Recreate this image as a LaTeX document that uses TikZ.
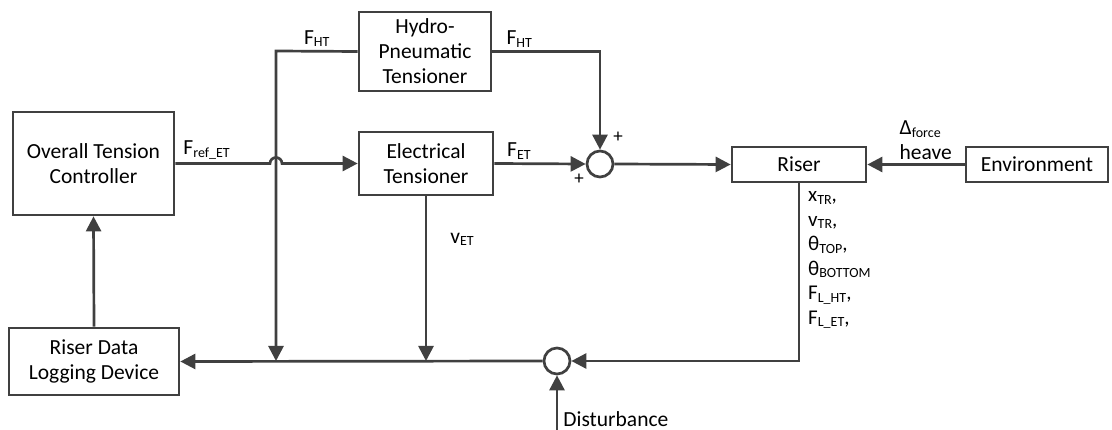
\documentclass[tikz,border=0pt]{standalone}
\usepackage{fontspec}
\setmainfont{Carlito}
\usetikzlibrary{arrows.meta, positioning, calc}
\definecolor{WireGray}{HTML}{404040}
\newcommand{\sbs}[1]{\raisebox{-0.25ex}{\fontsize{14}{14}\selectfont #1}}

\begin{document}
\begin{tikzpicture}[
            x=1pt, y=-1pt,
            font=\fontsize{21.5}{25}\selectfont,
            >={Triangle[length=15pt,width=15pt]},
            line/.style={draw=WireGray, line width=2.7pt, ->},
            block/.style={
                rectangle, draw=WireGray, line width=2.7pt,
                align=center, inner sep=2pt
            },
            sumnode/.style={circle, draw=WireGray, line width=2.7pt, minimum size=26pt, inner sep=0pt},
            note/.style={inner sep=3pt},
            sign/.style={inner sep=0pt, font=\fontsize{19}{19}\selectfont}
        ]
        \useasboundingbox (0,0) rectangle (1112,430);

        % --- Blocks ---
        \node[block, minimum width=161, minimum height=103] (otc) at (93.5,163.5) {Overall Tension\\Controller};
        \node[block, minimum width=132, minimum height=79] (hpt) at (425,51.5) {Hydro-\\Pneumatic\\Tensioner};
        \node[block, minimum width=134, minimum height=63] (et) at (426,163.5) {Electrical\\Tensioner};
        \node[sumnode] (sumf) at (600,164) {};
        \node[block, minimum width=134, minimum height=35] (riser) at (799,164.5) {Riser};
        \node[block, minimum width=142, minimum height=35] (env) at (1037,164.5) {Environment};
        \node[block, minimum width=170, minimum height=67] (rdl) at (94,361.5) {Riser Data\\Logging Device};
        \node[sumnode] (sumd) at (557,361) {};

        % --- Junctions ---
        \coordinate (jht) at (276,51);
        \coordinate (dist) at (557,430);

        % --- Forward path ---
        \path[line] (otc.east) -- node[note, above, pos=0.33] {F\sbs{ref\_ET}} ($(jht|-otc.east)+(-6,0)$)
            arc[start angle=180, end angle=360, radius=6] -- (et.west);
        \path[line] (hpt.west) -- node[note, above] {F\sbs{HT}} (jht) -- (jht|-sumd);
        \path[line] (hpt.east) -- node[note, above, pos=0.25] {F\sbs{HT}} (hpt.east-|sumf) -- (sumf.north);
        \path[line] (et.east) -- node[note, above, pos=0.27] {F\sbs{ET}} (sumf.west);
        \path[line] (sumf.east) -- (riser.west);
        \path[line] (env.west) -- node[note, above, pos=0.4, align=left] {Δ\sbs{force}\\heave} (riser.east);

        % --- Signs ---
        \node[sign] (plustop) at ($(sumf.center)+(18,-27)$) {+};
        \node[sign] (plusleft) at ($(sumf.center)+(-21,15)$) {+};

        % --- Feedback path ---
        \path[line] (et.south) -- node[note, right, pos=0.26, xshift=20pt] {v\sbs{ET}} (et.south|-sumd);
        \path[line] (riser.south) -- (riser.south|-sumd) -- (sumd.east);
        \node[anchor=north west, align=left, inner sep=0pt, font=\fontsize{21}{24.5}\selectfont] (outs)
            at ($(riser.south)+(9,8)$)
            {x\sbs{TR},\\v\sbs{TR},\\θ\sbs{TOP},\\θ\sbs{BOTTOM}\\F\sbs{L\_HT},\\F\sbs{L\_ET},};
        \path[line] (dist) -- node[note, right, pos=0.2, xshift=2pt] {Disturbance} (sumd.south);
        \path[line] (sumd.west) -- (rdl.east);
        \path[line] (rdl.north) -- (otc.south);

        \end{tikzpicture}
\end{document}
